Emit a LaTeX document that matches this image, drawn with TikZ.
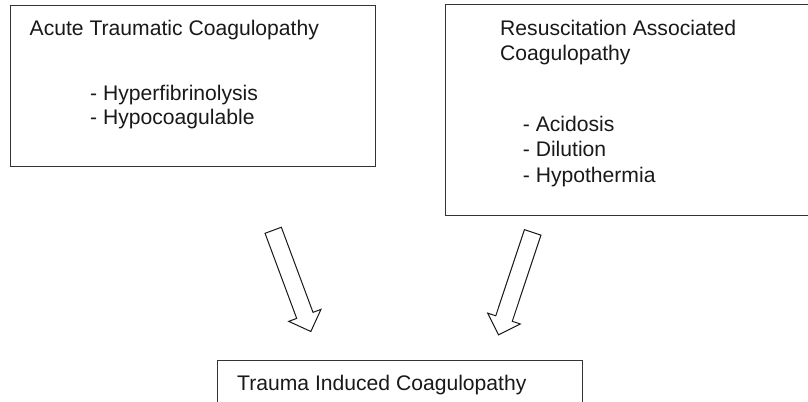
\documentclass[tikz,border=0pt]{standalone}
\usepackage{fontspec}
\setmainfont{Liberation Sans}
\usetikzlibrary{shapes.arrows}
\begin{document}
\begin{tikzpicture}[x=1bp,y=-1bp,
  boxline/.style={draw=black!80, line width=1.1bp, inner sep=0pt, anchor=north west},
  lbl/.style={anchor=base west, inner sep=0pt, font=\fontsize{21.2}{24}\selectfont, text=black!90},
  blockarrow/.style={single arrow, draw=black!90, line width=1bp, inner sep=0pt,
    text height=8.2bp, text depth=8.2bp, text width=0pt,
    minimum height=108bp, single arrow head extend=8.5bp}]
\clip (0,0) rectangle (808,401);
\fill[white] (0,0) rectangle (808,401);
% boxes
\node[boxline, minimum width=365bp, minimum height=160.5bp] (atc) at (10,5) {};
\node[boxline, minimum width=400bp, minimum height=211bp] (rac) at (445,4) {};
\node[boxline, minimum width=365bp, minimum height=80bp] (tic) at (217,359.5) {};
% texts
\node[lbl] (t1) at (29.5,35) {Acute Traumatic Coagulopathy};
\node[lbl] (t2) at (90,100) {- Hyperfibrinolysis};
\node[lbl] (t3) at (90,124) {- Hypocoagulable};
\node[lbl] (r1) at (500,35) {Resuscitation Associated};
\node[lbl] (r2) at (500,60) {Coagulopathy};
\node[lbl] (r3) at (522.7,131) {- Acidosis};
\node[lbl] (r4) at (522.7,156.5) {- Dilution};
\node[lbl] (r5) at (522.7,182) {- Hypothermia};
\node[lbl] (b1) at (237,390) {Trauma Induced Coagulopathy};
% arrows
\node[blockarrow, rotate=-69.6] (a1) at (290.5,276.8) {};
\node[blockarrow, rotate=-108.4] (a2) at (517,279.5) {};
\end{tikzpicture}
\end{document}
